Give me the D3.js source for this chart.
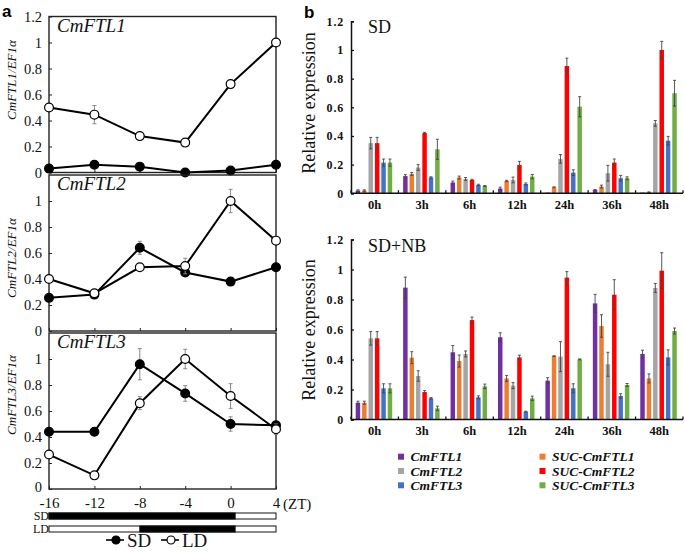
<!DOCTYPE html>
<html><head><meta charset="utf-8">
<script src="https://cdn.jsdelivr.net/npm/d3@7/dist/d3.min.js"></script>
<style>body{margin:0;background:#fff;} svg{display:block;}</style>
</head><body>
<svg id="c" width="685" height="552"></svg>
<script>
// ---------- Panel a data ----------
const zt = [-16, -12, -8, -4, 0, 4];
const ftl1SD = [0.03, 0.06, 0.045, 0.0, 0.015, 0.06];
const ftl1SDerr = [0, 0, 0, 0, 0, 0];
const ftl1LD = [0.50, 0.445, 0.28, 0.23, 0.68, 1.0];
const ftl1LDerr = [0, 0.07, 0, 0, 0, 0];
const ftl2SD = [0.255, 0.28, 0.64, 0.45, 0.38, 0.49];
const ftl2SDerr = [0, 0, 0.05, 0, 0, 0];
const ftl2LD = [0.40, 0.29, 0.49, 0.50, 1.0, 0.695];
const ftl2LDerr = [0, 0.02, 0, 0.06, 0.09, 0];
const ftl3SD = [0.44, 0.44, 0.96, 0.735, 0.50, 0.49];
const ftl3SDerr = [0, 0, 0.12, 0.06, 0.055, 0];
const ftl3LD = [0.265, 0.105, 0.66, 1.0, 0.715, 0.46];
const ftl3LDerr = [0, 0, 0.05, 0.075, 0.095, 0.04];
const panelTitles = ["CmFTL1", "CmFTL2", "CmFTL3"];
const panelYLabels = ["CmFTL1/EF1α", "CmFTL2/EF1α", "CmFTL3/EF1α"];
const ytickA1 = [0, 0.2, 0.4, 0.6, 0.8, 1, 1.2];
const ytickA = [0, 0.2, 0.4, 0.6, 0.8, 1];
const darkSD = [-16, 0.4];
const darkLD = [-8, 0.4];

// ---------- Panel b data ----------
const hours = ["0h", "3h", "6h", "12h", "24h", "36h", "48h"];
const seriesNames = ["CmFTL1", "SUC-CmFTL1", "CmFTL2", "SUC-CmFTL2", "CmFTL3", "SUC-CmFTL3"];
const seriesColors = ["#7030A0", "#ED7D31", "#A5A5A5", "#FF0000", "#4472C4", "#70AD47"];
const sdCmFTL1 = [0.019, 0.12, 0.075, 0.033, 0.005, 0.023, 0.005];
const sdSucFTL1 = [0.019, 0.135, 0.11, 0.086, 0.042, 0.047, 0.007];
const sdCmFTL2 = [0.35, 0.18, 0.10, 0.093, 0.24, 0.14, 0.488];
const sdSucFTL2 = [0.35, 0.42, 0.093, 0.198, 0.888, 0.214, 1.0];
const sdCmFTL3 = [0.214, 0.11, 0.058, 0.065, 0.144, 0.105, 0.367];
const sdSucFTL3 = [0.214, 0.307, 0.051, 0.116, 0.604, 0.105, 0.698];
const sdErrCmFTL1 = [0.005, 0.01, 0.01, 0.01, 0, 0.003, 0];
const sdErrSucFTL1 = [0.005, 0.01, 0.01, 0.005, 0.003, 0.01, 0.003];
const sdErrCmFTL2 = [0.04, 0.02, 0.01, 0.02, 0.03, 0.055, 0.02];
const sdErrSucFTL2 = [0.04, 0.005, 0.005, 0.025, 0.055, 0.025, 0.06];
const sdErrCmFTL3 = [0.025, 0.005, 0.005, 0.007, 0.02, 0.02, 0.03];
const sdErrSucFTL3 = [0.025, 0.07, 0.003, 0.015, 0.07, 0.01, 0.09];
const nbCmFTL1 = [0.112, 0.879, 0.448, 0.548, 0.259, 0.774, 0.437];
const nbSucFTL1 = [0.112, 0.412, 0.39, 0.274, 0.423, 0.623, 0.274];
const nbCmFTL2 = [0.541, 0.29, 0.437, 0.226, 0.419, 0.368, 0.877];
const nbSucFTL2 = [0.541, 0.183, 0.663, 0.414, 0.946, 0.832, 0.992];
const nbCmFTL3 = [0.208, 0.141, 0.148, 0.052, 0.208, 0.157, 0.414];
const nbSucFTL3 = [0.208, 0.074, 0.221, 0.141, 0.401, 0.23, 0.59];
const nbErrCmFTL1 = [0.01, 0.07, 0.045, 0.03, 0.02, 0.06, 0.025];
const nbErrSucFTL1 = [0.01, 0.04, 0.04, 0.02, 0.002, 0.075, 0.03];
const nbErrCmFTL2 = [0.045, 0.035, 0.02, 0.02, 0.1, 0.08, 0.03];
const nbErrSucFTL2 = [0.045, 0.01, 0.02, 0.015, 0.04, 0.1, 0.12];
const nbErrCmFTL3 = [0.03, 0.005, 0.01, 0.003, 0.03, 0.015, 0.05];
const nbErrSucFTL3 = [0.03, 0.015, 0.015, 0.015, 0.003, 0.01, 0.02];
const ytickB = [0, 0.2, 0.4, 0.6, 0.8, 1, 1.2];

const svg = d3.select("#c");
const SERIF = "'Liberation Serif','Times New Roman',serif";
const fmt = d => String(+d.toFixed(1));

// ================= Panel a =================
const xA = d3.scaleLinear().domain([-16, 4]).range([49, 276]);
const panelsA = [
  {sd: ftl1SD, sdE: ftl1SDerr, ld: ftl1LD, ldE: ftl1LDerr, range: [172.5, 16.5], ticks: ytickA1, lab: 80},
  {sd: ftl2SD, sdE: ftl2SDerr, ld: ftl2LD, ldE: ftl2LDerr, range: [331, 175], ticks: ytickA, lab: 258},
  {sd: ftl3SD, sdE: ftl3SDerr, ld: ftl3LD, ldE: ftl3LDerr, range: [489, 333], ticks: ytickA, lab: 395}
];
panelsA.forEach((p, i) => {
  const y = d3.scaleLinear().domain([0, 1.2]).range(p.range);
  const g = svg.append("g");
  g.append("rect").attr("x", xA(-16)).attr("y", y(1.2)).attr("width", xA(4) - xA(-16))
    .attr("height", y(0) - y(1.2)).attr("fill", "none").attr("stroke", "#222").attr("stroke-width", 1.4);
  const ya = g.append("g").attr("transform", `translate(${xA(-16)},0)`)
    .call(d3.axisLeft(y).tickValues(p.ticks).tickSize(-3).tickPadding(7).tickFormat(fmt));
  ya.select(".domain").remove();
  ya.selectAll("line").attr("stroke", "#222");
  ya.selectAll("text").attr("font-family", SERIF).attr("font-size", 14.5).attr("fill", "#111");
  if (i === 2) ya.selectAll("text").filter(d => d === 0).attr("dy", "0.2em");
  const xa = g.append("g").attr("transform", `translate(0,${y(0)})`)
    .call(d3.axisBottom(xA).tickValues(zt).tickSize(-3).tickFormat(i === 2 ? (d => d) : ""));
  xa.select(".domain").remove();
  xa.selectAll("line").attr("stroke", "#222");
  xa.selectAll("text").attr("font-family", SERIF).attr("font-size", 15).attr("fill", "#111").attr("dy", "1.05em");
  g.append("text").attr("x", 57).attr("y", p.range[1] + 15).attr("font-family", SERIF)
    .attr("font-style", "italic").attr("font-size", 19).attr("fill", "#111").text(panelTitles[i]);
  g.append("text").attr("transform", `translate(16,${p.lab}) rotate(-90)`).attr("text-anchor", "middle")
    .attr("font-family", SERIF).attr("font-style", "italic").attr("font-size", 13).attr("fill", "#111")
    .text(panelYLabels[i]);
  const line = d3.line().x((d, j) => xA(zt[j])).y(d => y(d));
  [["sd", "sdE", "#000"], ["ld", "ldE", "#fff"]].forEach(([k, ek, fill]) => {
    const vals = p[k], errs = p[ek];
    vals.forEach((v, j) => {
      if (errs[j] > 0) {
        const cx = xA(zt[j]);
        g.append("line").attr("x1", cx).attr("x2", cx).attr("y1", y(v - errs[j])).attr("y2", y(v + errs[j]))
          .attr("stroke", "#888").attr("stroke-width", 1);
        [v - errs[j], v + errs[j]].forEach(e => g.append("line").attr("x1", cx - 2).attr("x2", cx + 2)
          .attr("y1", y(e)).attr("y2", y(e)).attr("stroke", "#888").attr("stroke-width", 1));
      }
    });
    g.append("path").attr("d", line(vals)).attr("fill", "none").attr("stroke", "#000").attr("stroke-width", 2);
    g.selectAll(null).data(vals).enter().append("circle")
      .attr("cx", (d, j) => xA(zt[j])).attr("cy", d => y(d)).attr("r", 4.4)
      .attr("fill", fill).attr("stroke", "#000").attr("stroke-width", 1.2);
  });
});
svg.append("text").attr("x", xA(4) + 7).attr("y", 509).attr("font-family", SERIF).attr("font-size", 15)
  .attr("fill", "#111").text("(ZT)");
[["SD", darkSD, 513], ["LD", darkLD, 526]].forEach(([lab, dark, yy]) => {
  svg.append("rect").attr("x", xA(-16)).attr("y", yy).attr("width", xA(4) - xA(-16)).attr("height", 6)
    .attr("fill", "#fff").attr("stroke", "#111").attr("stroke-width", 1);
  svg.append("rect").attr("x", xA(dark[0])).attr("y", yy).attr("width", xA(dark[1]) - xA(dark[0])).attr("height", 6)
    .attr("fill", "#000").attr("stroke", "#111").attr("stroke-width", 1);
  svg.append("text").attr("x", xA(-16)).attr("y", yy + 7).attr("text-anchor", "end").attr("font-family", SERIF)
    .attr("font-size", 12).attr("fill", "#111").text(lab);
});
[["SD", "#000", 106], ["LD", "#fff", 161]].forEach(([lab, fill, x0]) => {
  svg.append("line").attr("x1", x0).attr("x2", x0 + 18).attr("y1", 540).attr("y2", 540)
    .attr("stroke", "#000").attr("stroke-width", 1.6);
  svg.append("circle").attr("cx", x0 + 10).attr("cy", 540).attr("r", 4).attr("fill", fill)
    .attr("stroke", "#000").attr("stroke-width", 1.2);
  svg.append("text").attr("x", x0 + 21).attr("y", 546.5).attr("font-family", SERIF).attr("font-size", 19)
    .attr("fill", "#111").text(lab);
});
svg.append("text").attr("x", 2).attr("y", 17).attr("font-family", "'Liberation Sans',Arial,sans-serif")
  .attr("font-weight", "bold").attr("font-size", 17).text("a");
svg.append("text").attr("x", 304).attr("y", 18).attr("font-family", "'Liberation Sans',Arial,sans-serif")
  .attr("font-weight", "bold").attr("font-size", 17).text("b");

// ================= Panel b =================
const x0 = d3.scaleBand().domain(hours).range([351, 683]).paddingInner(0).paddingOuter(0);
const x1 = d3.scaleBand().domain(seriesNames).range([4.7, 41.2]).paddingInner(0.3).paddingOuter(0);
const charts = [
  {title: "SD", range: [193.3, 21.3], lab: 103, xlab: 209,
   vals: [sdCmFTL1, sdSucFTL1, sdCmFTL2, sdSucFTL2, sdCmFTL3, sdSucFTL3],
   errs: [sdErrCmFTL1, sdErrSucFTL1, sdErrCmFTL2, sdErrSucFTL2, sdErrCmFTL3, sdErrSucFTL3]},
  {title: "SD+NB", range: [419.5, 239.5], lab: 330, xlab: 434.5,
   vals: [nbCmFTL1, nbSucFTL1, nbCmFTL2, nbSucFTL2, nbCmFTL3, nbSucFTL3],
   errs: [nbErrCmFTL1, nbErrSucFTL1, nbErrCmFTL2, nbErrSucFTL2, nbErrCmFTL3, nbErrSucFTL3]}
];
charts.forEach(c => {
  const y = d3.scaleLinear().domain([0, 1.2]).range(c.range);
  const g = svg.append("g");
  const rows = [];
  hours.forEach((h, hi) => seriesNames.forEach((s, si) => rows.push({h, s, si, v: c.vals[si][hi], e: c.errs[si][hi]})));
  g.selectAll(null).data(rows).enter().append("rect")
    .attr("x", d => x0(d.h) + x1(d.s)).attr("width", x1.bandwidth())
    .attr("y", d => y(d.v)).attr("height", d => y(0) - y(d.v))
    .attr("fill", d => seriesColors[d.si]);
  rows.filter(d => d.e > 0).forEach(d => {
    const cx = x0(d.h) + x1(d.s) + x1.bandwidth() / 2;
    g.append("line").attr("x1", cx).attr("x2", cx).attr("y1", y(d.v - d.e)).attr("y2", y(d.v + d.e))
      .attr("stroke", "#444").attr("stroke-width", 0.9);
    [d.v - d.e, d.v + d.e].forEach(e => g.append("line").attr("x1", cx - 1.5).attr("x2", cx + 1.5)
      .attr("y1", y(e)).attr("y2", y(e)).attr("stroke", "#444").attr("stroke-width", 0.9));
  });
  const ya = g.append("g").attr("transform", `translate(351,0)`)
    .call(d3.axisLeft(y).tickValues(ytickB).tickSize(-3).tickPadding(7).tickFormat(fmt));
  ya.select(".domain").attr("stroke", "#111").attr("stroke-width", 1.5);
  ya.selectAll("line").attr("stroke", "#111").attr("stroke-width", 1.3);
  ya.selectAll("text").attr("font-family", SERIF).attr("font-weight", "bold").attr("font-size", 12)
    .attr("letter-spacing", "0.8px").attr("fill", "#111");
  g.append("line").attr("x1", 351).attr("x2", 683).attr("y1", y(0)).attr("y2", y(0))
    .attr("stroke", "#111").attr("stroke-width", 1.5);
  const bounds = hours.map(h => x0(h)).concat([x0.range()[1]]);
  g.selectAll(null).data(bounds).enter().append("line").attr("x1", d => d).attr("x2", d => d)
    .attr("y1", y(0)).attr("y2", y(0) - 3).attr("stroke", "#111").attr("stroke-width", 1.3);
  g.selectAll(null).data(hours).enter().append("text")
    .attr("x", d => x0(d) + x0.bandwidth() / 2).attr("y", c.xlab).attr("text-anchor", "middle")
    .attr("font-family", SERIF).attr("font-weight", "bold").attr("font-size", 12.5).attr("fill", "#111").text(d => d);
  g.append("text").attr("x", 368).attr("y", c.range[1] + 12).attr("font-family", SERIF).attr("font-size", 18)
    .attr("fill", "#111").text(c.title);
  g.append("text").attr("transform", `translate(315,${c.lab}) rotate(-90)`).attr("text-anchor", "middle")
    .attr("font-family", SERIF).attr("font-size", 18).attr("fill", "#111").text("Relative expression");
});
const legOrder = [[0, 0], [2, 1], [4, 2], [1, 0], [3, 1], [5, 2]];
legOrder.forEach(([si, row], k) => {
  const lx = k < 3 ? 398 : 539.5;
  const ly = 456.7 + row * 14.3;
  svg.append("rect").attr("x", lx).attr("y", ly - 3).attr("width", 6).attr("height", 6).attr("fill", seriesColors[si]);
  svg.append("text").attr("x", lx + 12.5).attr("y", ly + 4.5).attr("font-family", SERIF).attr("font-style", "italic")
    .attr("font-weight", "bold").attr("font-size", 13.5).attr("fill", "#111").text(seriesNames[si]);
});
</script>
</body></html>
